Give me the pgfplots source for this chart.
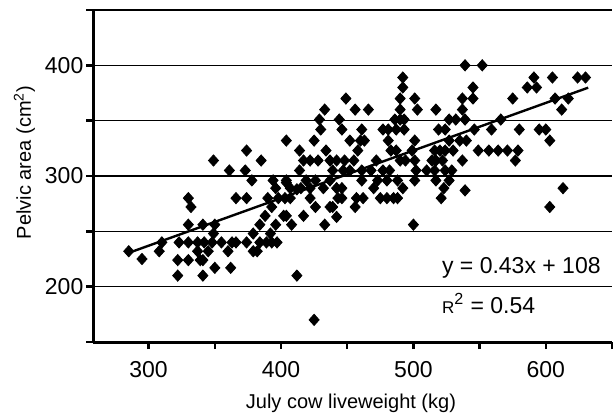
\documentclass[border=0pt]{standalone}
\usepackage{pgfplots}
\pgfplotsset{compat=1.18}
\usepackage{fontspec}
\setmainfont{Liberation Sans}
\pgfplotstableread{
x y
285 232
295 225
308 232
310 240
322 210
322 224
330 224
339 224
341 224
323 240
330 240
337 240
342 240
348 240
355 240
363 240
366 240
374 240
384 240
389 240
393 240
397 240
337 232
345 232
360 232
379 232
382 232
350 217
362 217
341 210
412 210
425 170
349 248
379 248
392 248
330 256
341 256
350 256
384 256
396 256
408 256
433 256
500 256
388 264
402 264
404 264
417 264
442 263
332 272
393 272
426 272
437 272
439 272
456 272
603 272
330 280
366 280
374 280
390 280
398 280
403 280
407 280
422 280
443 280
446 280
457 280
462 280
475 280
480 280
485 280
488 280
521 280
396 289
404 294
407 289
412 288
415 289
422 289
432 289
442 289
446 289
470 289
492 289
523 289
539 287
613 289
378 296
394 296
404 296
419 296
426 296
437 296
461 296
473 296
480 296
488 296
501 296
517 296
527 296
361 305
373 305
414 305
439 305
447 305
452 305
461 305
468 305
477 305
482 305
502 305
510 305
516 305
524 305
529 305
349 314
385 314
417 314
422 314
428 314
437 314
442 314
448 314
455 314
472 314
490 314
494 314
501 314
514 314
517 314
522 314
537 314
577 314
374 323
414 323
434 323
458 323
483 323
487 323
499 323
516 323
520 323
524 323
530 323
549 323
557 323
564 323
571 323
579 323
404 332
425 332
452 332
460 332
463 332
481 332
501 332
527 332
535 332
540 332
603 332
430 342
446 342
461 342
477 342
481 342
487 342
493 342
519 342
524 342
546 342
559 342
580 342
595 342
600 342
429 351
444 351
486 351
490 351
493 351
527 351
532 351
539 351
566 351
433 360
456 360
466 360
490 360
503 360
517 360
537 360
612 360
449 370
490 370
501 370
537 370
545 370
575 370
607 370
617 370
492 380
545 380
586 380
593 380
492 389
591 389
605 389
624 389
630 389
539 400
552 400
}\cowdata
\begin{document}
\begin{tikzpicture}
\useasboundingbox (-46.5pt,-37.5pt) rectangle (260.5pt,171pt);
\begin{axis}[
  scale only axis,
  width=259.5pt, height=166pt,
  xmin=258, xmax=650, ymin=150, ymax=450,
  axis lines*=left,
  axis line style={-, line width=1.5pt},
  xtick={300,350,400,450,500,550,600,650},
  xticklabels={300,,400,,500,,600,},
  ytick={150,200,250,300,350,400,450},
  yticklabels={,200,,300,,400,},
  tick align=outside,
  major tick length=3.5pt,
  tick style={black, line width=1.2pt},
  ymajorgrids=true,
  grid style={black, line width=0.75pt},
  /pgf/number format/assume math mode=true,
  tick label style={font=\fontsize{11.5}{13}\selectfont},
  xticklabel style={anchor=base, yshift=-14pt},
  yticklabel style={xshift=2.2pt},
  label style={font=\fontsize{11.5}{13}\selectfont},
  every axis x label/.style={at={(axis description cs:0.497,-0.2018)},anchor=base},
  every axis y label/.style={at={(axis description cs:-0.1195,0.5407)},rotate=90,anchor=base},
  xlabel={July cow liveweight (kg)},
  ylabel={Pelvic area (cm\textsuperscript{2})},
  clip=false,
]
\addplot[only marks, mark=diamond*, mark size=2.8pt, mark options={fill=black, draw=black, xscale=1.2}] table[x=x,y=y] {\cowdata};
\addplot[black, line width=1.2pt] coordinates {(283,229.7) (632,379.8)};
\node[anchor=base east, font=\fontsize{11.5}{13}\selectfont, inner sep=0pt] at (axis cs:641.7,211.8) {y = 0.43x + 108};
\node[anchor=base west, font=\fontsize{11.5}{13}\selectfont, inner sep=0pt] at (axis cs:521.3,175.6) {{\fontsize{8.5}{10}\selectfont R}\textsuperscript{2} = 0.54};
\end{axis}
\end{tikzpicture}
\end{document}
